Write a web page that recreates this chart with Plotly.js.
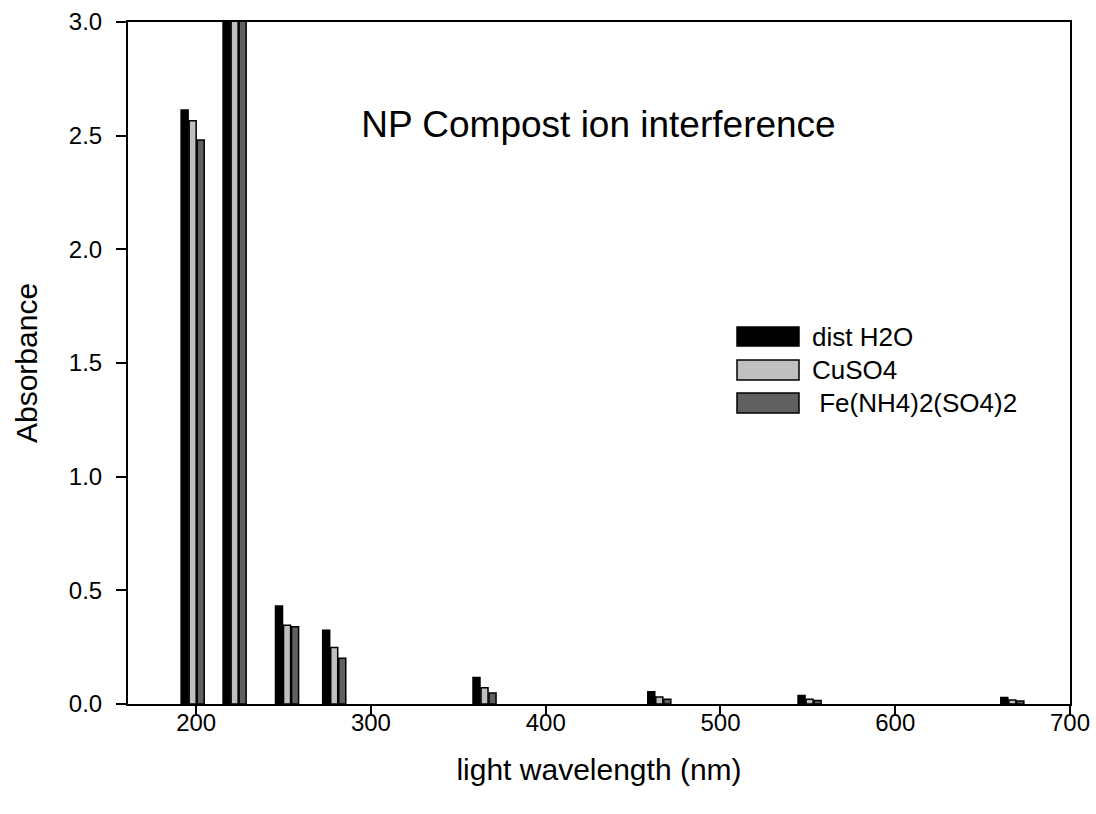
<!DOCTYPE html>
<html>
<head>
<meta charset="utf-8">
<script src="https://cdn.plot.ly/plotly-3.0.1.min.js"></script>
<style>html,body{margin:0;padding:0;background:#fff;}#chart{width:1096px;height:814px;}</style>
</head>
<body>
<div id="chart"></div>
<script>
// Wavelengths (nm) of each bar group
const wavelengths = [198, 222, 252, 279, 365, 465, 551, 667];
// Absorbance series (group at 222 nm goes off scale)
const distH2O = [2.613, 3.5, 0.431, 0.324, 0.117, 0.054, 0.037, 0.029];
const cuSO4   = [2.566, 3.5, 0.346, 0.248, 0.072, 0.031, 0.021, 0.018];
const feNH4SO4 = [2.481, 3.5, 0.340, 0.201, 0.048, 0.021, 0.015, 0.013];
const seriesNames = ['dist H2O', 'CuSO4', ' Fe(NH4)2(SO4)2'];
const seriesColors = ['#000000', '#c0c0c0', '#606060'];
const yTicks = [0, 0.5, 1.0, 1.5, 2.0, 2.5, 3.0];
const xTicks = [200, 300, 400, 500, 600, 700];

const FONT = '"Liberation Sans", Arial, sans-serif';
const series = [distH2O, cuSO4, feNH4SO4];
const traces = series.map((vals, i) => ({
  type: 'bar',
  x: wavelengths,
  y: vals,
  name: seriesNames[i],
  marker: {color: seriesColors[i], line: {color: '#000', width: 1.5}},
  showlegend: false,
  hoverinfo: 'x+y+name'
}));

// Manual legend with wide swatches
const L = 128, T = 22, W = 942, H = 682;
const px = v => (v - L) / W;
const py = v => (T + H - v) / H;
const rows = [[327, 346], [360, 380], [393, 413]];
const shapes = rows.map((r, i) => ({
  type: 'rect', xref: 'paper', yref: 'paper',
  x0: px(737), x1: px(799), y0: py(r[1]), y1: py(r[0]),
  fillcolor: seriesColors[i], line: {color: '#000', width: 1.5}
}));
const annotations = rows.map((r, i) => ({
  xref: 'paper', yref: 'paper', x: px(810), y: py((r[0] + r[1]) / 2),
  xanchor: 'left', yanchor: 'middle', showarrow: false,
  text: seriesNames[i].replace(/^ /, '&nbsp;'),
  font: {family: FONT, size: 26, color: '#000'}
}));

const layout = {
  width: 1096, height: 814,
  margin: {l: L, r: 1096 - L - W, t: T, b: 814 - T - H, pad: 0},
  paper_bgcolor: '#fff', plot_bgcolor: '#fff',
  barmode: 'group', bargap: 0.425, bargroupgap: 0.13,
  font: {family: FONT, color: '#000'},
  title: {
    text: 'NP Compost ion interference',
    xref: 'paper', yref: 'paper', x: px(598.5), y: py(124),
    xanchor: 'center', yanchor: 'middle',
    font: {family: FONT, size: 37, color: '#000'}
  },
  xaxis: {
    range: [161, 700], tickvals: xTicks, ticktext: xTicks.map(String),
    showgrid: false, zeroline: false,
    showline: true, linecolor: '#000', linewidth: 2, mirror: true,
    ticks: 'outside', ticklen: 8, tickwidth: 2, tickcolor: '#000',
    ticklabelstandoff: -12,
    tickfont: {family: FONT, size: 24, color: '#000'},
    title: {text: 'light wavelength (nm)', font: {family: FONT, size: 30, color: '#000'}, standoff: 24}
  },
  yaxis: {
    range: [0, 3.0], tickvals: yTicks, ticktext: yTicks.map(v => v.toFixed(1)),
    showgrid: false, zeroline: false,
    showline: true, linecolor: '#000', linewidth: 2, mirror: true,
    ticks: 'outside', ticklen: 10, tickwidth: 2, tickcolor: '#000',
    ticklabelstandoff: 9,
    tickfont: {family: FONT, size: 24, color: '#000'},
    title: {text: 'Absorbance', font: {family: FONT, size: 30, color: '#000'}, standoff: 22}
  },
  shapes: shapes,
  annotations: annotations
};

Plotly.newPlot('chart', traces, layout, {displayModeBar: false, staticPlot: true});
</script>
</body>
</html>
